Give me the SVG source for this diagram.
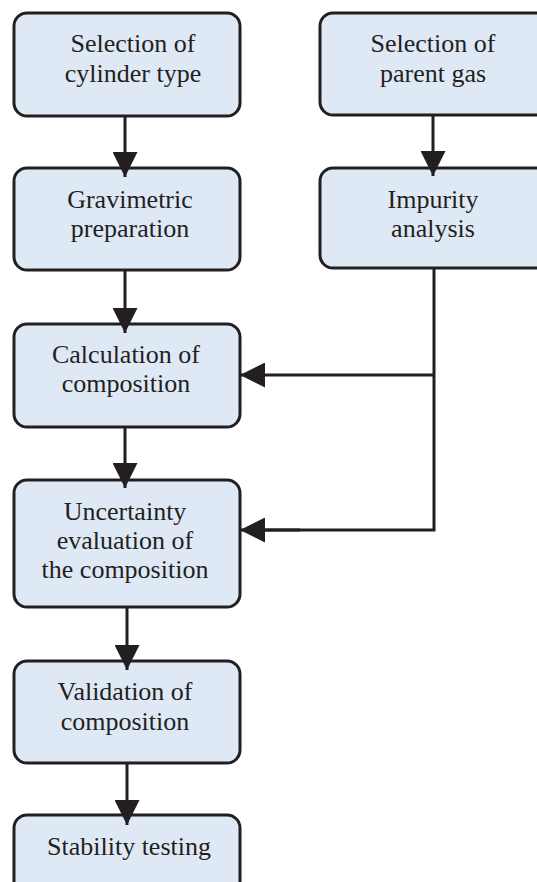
<svg xmlns="http://www.w3.org/2000/svg" width="537" height="882" viewBox="0 0 537 882">
<defs>
<style>
.box{fill:#dfe9f6;stroke:#231f20;stroke-width:3}
.lbl{font-family:"Liberation Serif","Times New Roman",serif;font-size:26px;fill:#231f20;text-anchor:middle}
.con{fill:none;stroke:#231f20;stroke-width:3}
</style>
<marker id="ah" viewBox="0 0 25 25" refX="25" refY="12.5" markerWidth="25" markerHeight="25" markerUnits="userSpaceOnUse" orient="auto">
<path d="M0,0 L25,12.5 L0,25 Z" fill="#231f20"/>
</marker>
</defs>
<rect width="537" height="882" fill="#ffffff"/>
<g id="n1">
<rect class="box" x="14" y="13" width="226" height="103" rx="13"/>
<text class="lbl" x="133" y="52">Selection of</text>
<text class="lbl" x="133" y="82">cylinder type</text>
</g>
<g id="n2">
<rect class="box" x="14" y="168" width="226" height="102" rx="13"/>
<text class="lbl" x="130" y="208">Gravimetric</text>
<text class="lbl" x="130" y="237">preparation</text>
</g>
<g id="n3">
<rect class="box" x="14" y="324" width="226" height="103" rx="13"/>
<text class="lbl" x="126" y="363">Calculation of</text>
<text class="lbl" x="126" y="392">composition</text>
</g>
<g id="n4">
<rect class="box" x="14" y="480" width="226" height="127" rx="13"/>
<text class="lbl" x="125" y="520">Uncertainty</text>
<text class="lbl" x="125" y="549">evaluation of</text>
<text class="lbl" x="125" y="578">the composition</text>
</g>
<g id="n5">
<rect class="box" x="14" y="661" width="226" height="102" rx="13"/>
<text class="lbl" x="125" y="700">Validation of</text>
<text class="lbl" x="125" y="730">composition</text>
</g>
<g id="n6">
<rect class="box" x="14" y="815" width="226" height="90" rx="13"/>
<text class="lbl" x="129" y="855">Stability testing</text>
</g>
<g id="n7">
<rect class="box" x="320" y="13" width="240" height="102" rx="13"/>
<text class="lbl" x="433" y="52">Selection of</text>
<text class="lbl" x="433" y="82">parent gas</text>
</g>
<g id="n8">
<rect class="box" x="320" y="168" width="240" height="100" rx="13"/>
<text class="lbl" x="433" y="208">Impurity</text>
<text class="lbl" x="433" y="237">analysis</text>
</g>
<g id="connectors">
<line class="con" x1="125" y1="116" x2="125" y2="177" marker-end="url(#ah)"/>
<line class="con" x1="125" y1="270" x2="125" y2="333" marker-end="url(#ah)"/>
<line class="con" x1="125" y1="427" x2="125" y2="488" marker-end="url(#ah)"/>
<line class="con" x1="127" y1="607" x2="127" y2="670" marker-end="url(#ah)"/>
<line class="con" x1="127" y1="763" x2="127" y2="825" marker-end="url(#ah)"/>
<line class="con" x1="433" y1="115" x2="433" y2="176" marker-end="url(#ah)"/>
<polyline class="con" points="434,268 434,530 264,530"/>
<line class="con" x1="434" y1="375" x2="240" y2="375" marker-end="url(#ah)"/>
<line class="con" x1="300" y1="530" x2="240" y2="530" marker-end="url(#ah)"/>
</g>
</svg>
